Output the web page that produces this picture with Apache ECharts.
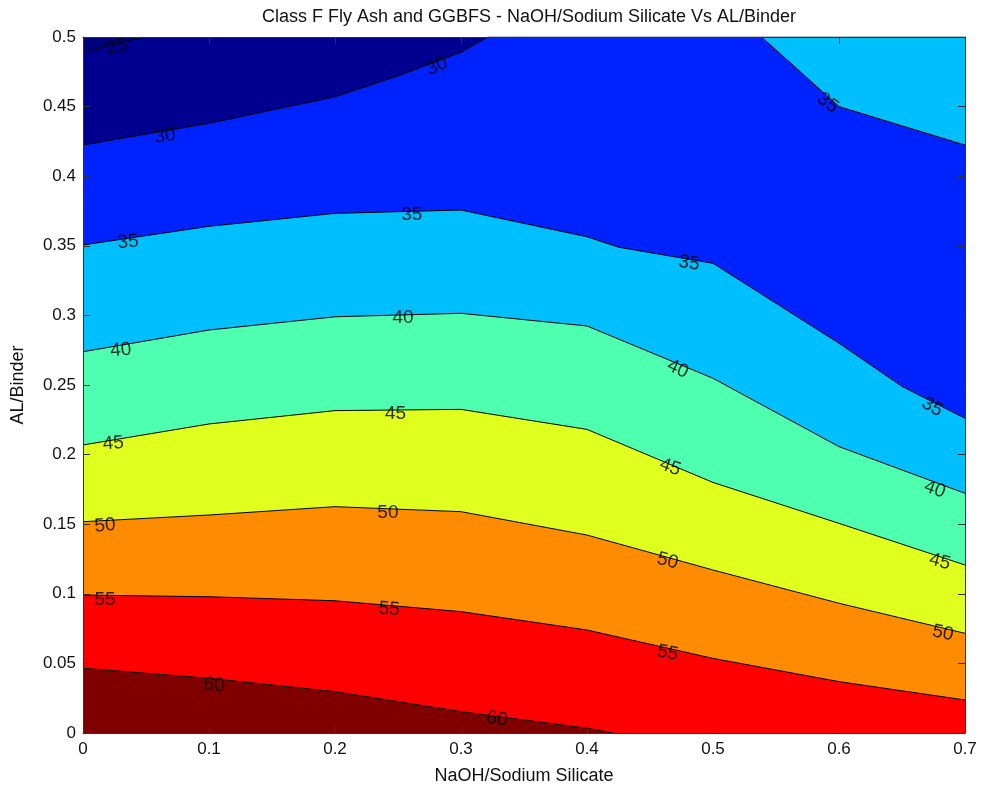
<!DOCTYPE html>
<html>
<head>
<meta charset="utf-8">
<script src="https://cdn.jsdelivr.net/npm/echarts@6/dist/echarts.min.js"></script>
<style>html,body{margin:0;padding:0;background:#fff;}#c{width:982px;height:789px;}</style>
</head>
<body>
<div id="c"></div>
<script>
// Contour polylines: [NaOH/Sodium Silicate, AL/Binder]
const c25 = [[0, 0.489], [0.047, 0.5]];
const c30 = [[0, 0.4224], [0.1, 0.438], [0.2, 0.457], [0.25, 0.472], [0.3, 0.489], [0.3214, 0.5], [0.7, 0.5]];
const c35top = [[0.5386, 0.5], [0.6, 0.45], [0.7, 0.4224]];
const c35 = [[0, 0.3506], [0.1, 0.364], [0.2, 0.3733], [0.3, 0.3757], [0.4, 0.3565], [0.425, 0.349], [0.5, 0.3374], [0.6, 0.28], [0.65, 0.249], [0.7, 0.2261]];
const c40 = [[0, 0.2739], [0.1, 0.2895], [0.2, 0.299], [0.3, 0.3015], [0.4, 0.2924], [0.5, 0.2548], [0.6, 0.2057], [0.7, 0.1722]];
const c45 = [[0, 0.2069], [0.1, 0.222], [0.2, 0.2316], [0.3, 0.2325], [0.4, 0.2181], [0.5, 0.18], [0.6, 0.1506], [0.7, 0.1207]];
const c50 = [[0, 0.1518], [0.1, 0.1566], [0.2, 0.1626], [0.3, 0.159], [0.4, 0.1422], [0.5, 0.1171], [0.6, 0.0932], [0.7, 0.0716]];
const c55 = [[0, 0.0991], [0.1, 0.0979], [0.2, 0.095], [0.3, 0.0872], [0.4, 0.074], [0.5, 0.0536], [0.6, 0.0369], [0.7, 0.0237]];
const c60 = [[0, 0.0465], [0.1, 0.0393], [0.2, 0.0297], [0.3, 0.0153], [0.4, 0.0034], [0.4209, 0]];

// Contour labels
const labelText  = ['25', '30', '30', '35', '35', '35', '35', '35', '40', '40', '40', '40', '45', '45', '45', '45', '50', '50', '50', '50', '55', '55', '55', '60', '60'];
const labelX     = [0.027, 0.065, 0.281, 0.591, 0.0357, 0.261, 0.481, 0.674, 0.030, 0.254, 0.472, 0.676, 0.024, 0.248, 0.466, 0.68, 0.0175, 0.242, 0.464, 0.6825, 0.0175, 0.243, 0.464, 0.104, 0.3286];
const labelY     = [0.493, 0.4289, 0.479, 0.4526, 0.3527, 0.372, 0.3376, 0.2342, 0.275, 0.298, 0.2615, 0.175, 0.208, 0.229, 0.191, 0.123, 0.149, 0.158, 0.1236, 0.0718, 0.0955, 0.089, 0.0575, 0.0345, 0.010];
const labelAngle = [14, 8, 25, -38, 5, 0, -10, -30, 5, 0, -25, -20, 5, 0, -20, -15, 5, 0, -15, -12, 0, -5, -12, -5, -8];

const xTicks = [0, 0.1, 0.2, 0.3, 0.4, 0.5, 0.6, 0.7];
const yTicks = [0, 0.05, 0.1, 0.15, 0.2, 0.25, 0.3, 0.35, 0.4, 0.45, 0.5];

const FONT = "'Liberation Sans', Arial, sans-serif";
const fills = [
  {d: c30, color: '#0022ff', origin: 'start'},
  {d: c25, color: '#00007c', origin: 'end'},
  {d: c35top, color: '#00bfff', origin: 'end'},
  {d: c35, color: '#00bfff', origin: 'start'},
  {d: c40, color: '#4fffb0', origin: 'start'},
  {d: c45, color: '#dfff1f', origin: 'start'},
  {d: c50, color: '#ff8c00', origin: 'start'},
  {d: c55, color: '#ff0000', origin: 'start'},
  {d: c60, color: '#800000', origin: 'start'}
];

const series = fills.map(f => ({
  type: 'line', data: f.d, symbol: 'none', smooth: false, clip: true, z: 2,
  lineStyle: {color: '#000', width: 1},
  areaStyle: {color: f.color, opacity: 1, origin: f.origin},
  silent: true, animation: false
}));

series.push({
  type: 'scatter', symbolSize: 0, z: 5, silent: true, animation: false,
  data: labelText.map((t, i) => ({
    value: [labelX[i], labelY[i]],
    label: {show: true, position: 'inside', formatter: t, rotate: labelAngle[i],
            color: '#000', fontSize: 19, fontFamily: FONT}
  }))
});

const fmt = v => String(parseFloat(v.toFixed(2)));
const axisCommon = {
  type: 'value', z: 10,
  axisLine: {show: true, onZero: false, lineStyle: {color: '#333', width: 1}},
  axisTick: {show: true, inside: true, length: 7, lineStyle: {color: '#333'}},
  splitLine: {show: false}
};

const chart = echarts.init(document.getElementById('c'), null, {renderer: 'canvas'});
chart.setOption({
  animation: false,
  backgroundColor: '#fff',
  title: {
    text: 'Class F Fly Ash and GGBFS - NaOH/Sodium Silicate Vs AL/Binder',
    left: 524, top: 3, textAlign: 'center',
    textStyle: {fontFamily: FONT, fontSize: 18, fontWeight: 'normal', color: '#111'}
  },
  grid: {left: 83, right: 17, top: 37, bottom: 56, show: true, backgroundColor: '#000090', borderWidth: 0,
         containLabel: false, outerBoundsMode: 'none'},
  xAxis: [
    Object.assign({}, axisCommon, {
      min: xTicks[0], max: xTicks[xTicks.length - 1], interval: 0.1, position: 'bottom',
      name: 'NaOH/Sodium Silicate', nameLocation: 'middle', nameGap: 34,
      nameTextStyle: {fontFamily: FONT, fontSize: 18, color: '#111'},
      axisLabel: {fontFamily: FONT, fontSize: 17, color: '#111', margin: 8, formatter: fmt}
    }),
    Object.assign({}, axisCommon, {
      min: xTicks[0], max: xTicks[xTicks.length - 1], interval: 0.1, position: 'top',
      axisLabel: {show: false}
    })
  ],
  yAxis: [
    Object.assign({}, axisCommon, {
      min: yTicks[0], max: yTicks[yTicks.length - 1], interval: 0.05, position: 'left',
      name: 'AL/Binder', nameLocation: 'middle', nameGap: 56, nameRotate: 90,
      nameTextStyle: {fontFamily: FONT, fontSize: 18, color: '#111'},
      axisLabel: {fontFamily: FONT, fontSize: 17, color: '#111', margin: 7, formatter: fmt}
    }),
    Object.assign({}, axisCommon, {
      min: yTicks[0], max: yTicks[yTicks.length - 1], interval: 0.05, position: 'right',
      axisLabel: {show: false}
    })
  ],
  series: series
});
</script>
</body>
</html>
